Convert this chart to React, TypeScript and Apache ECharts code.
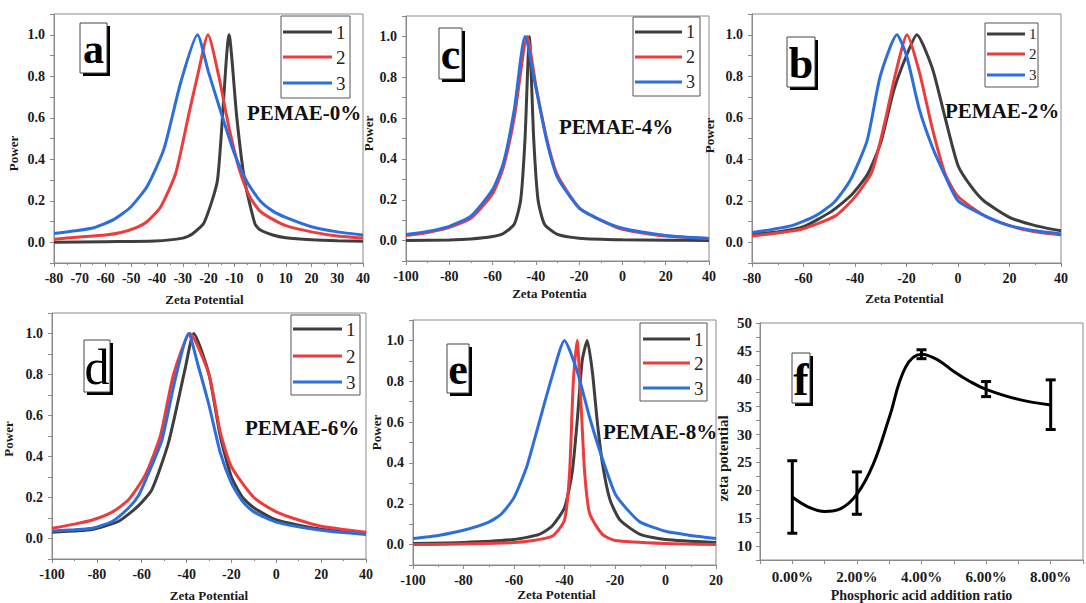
import React, { useEffect, useRef } from "react";
import * as echarts from "echarts";

const FONT = "Liberation Serif";
const C_BLACK = "#3e3e3e";
const C_RED = "#ee3b3b";
const C_BLUE = "#2c6fdc";

type P = [number, number][];

// Panel a: PEMAE-0%
const a1: P = [[-80,0.0],[-60,0.003],[-41,0.006],[-30,0.02],[-26.3,0.04],[-21.7,0.095],[-16.5,0.3],[-12,1.0],[-9,0.6],[-6,0.3],[-2,0.09],[0,0.06],[5,0.035],[10,0.022],[20,0.012],[30,0.007],[40,0.005]];
const a2: P = [[-80,0.015],[-70,0.025],[-60,0.035],[-54,0.047],[-48,0.07],[-43.8,0.1],[-38.6,0.17],[-32.8,0.33],[-27.6,0.62],[-24.3,0.8],[-20.2,1.0],[-16,0.8],[-12,0.55],[-8,0.35],[-4,0.22],[0,0.15],[5,0.11],[10,0.08],[20,0.05],[30,0.03],[40,0.02]];
const a3: P = [[-80,0.042],[-72,0.055],[-64.5,0.07],[-56.7,0.11],[-50.2,0.17],[-43.8,0.27],[-37.3,0.45],[-30.8,0.77],[-24.3,1.0],[-20,0.82],[-15,0.62],[-10,0.43],[-5,0.29],[0,0.2],[5,0.15],[10,0.12],[20,0.075],[30,0.05],[40,0.035]];

// Panel c: PEMAE-4%
const c1: P = [[-100,0.0],[-80,0.003],[-70,0.008],[-60,0.02],[-55,0.035],[-50,0.08],[-47,0.2],[-45,0.5],[-43,1.0],[-41,0.5],[-39,0.2],[-36,0.08],[-30,0.03],[-20,0.012],[0,0.004],[20,0.002],[40,0.0]];
const c2: P = [[-100,0.025],[-90,0.04],[-80,0.065],[-70,0.11],[-60,0.23],[-55,0.36],[-50,0.6],[-44,1.0],[-40,0.76],[-35,0.5],[-30,0.32],[-20,0.16],[-10,0.1],[0,0.055],[20,0.022],[40,0.01]];
const c3: P = [[-100,0.03],[-90,0.045],[-80,0.07],[-70,0.12],[-60,0.25],[-55,0.38],[-50,0.64],[-45,1.0],[-40,0.75],[-35,0.49],[-30,0.31],[-20,0.16],[-10,0.1],[0,0.06],[20,0.025],[40,0.01]];

// Panel b: PEMAE-2%
const b1: P = [[-80,0.04],[-70,0.05],[-60,0.075],[-49,0.15],[-41.2,0.23],[-35,0.33],[-30,0.48],[-25,0.73],[-20,0.9],[-16,1.0],[-10,0.84],[-5,0.6],[0,0.37],[5,0.27],[10,0.2],[20,0.12],[30,0.08],[40,0.055]];
const b2: P = [[-80,0.03],[-70,0.045],[-60.6,0.063],[-47.6,0.127],[-39.9,0.22],[-33.4,0.34],[-28.2,0.59],[-24.3,0.81],[-19.8,1.0],[-15,0.82],[-10,0.55],[-5,0.33],[0,0.22],[10,0.13],[20,0.08],[30,0.05],[40,0.035]];
const b3: P = [[-80,0.047],[-72,0.062],[-64.5,0.08],[-55.4,0.127],[-48.3,0.19],[-41.8,0.3],[-35.3,0.49],[-30.2,0.8],[-23.7,1.0],[-20,0.9],[-15,0.64],[-10,0.46],[-5,0.32],[0,0.2],[10,0.13],[20,0.08],[30,0.055],[40,0.04]];

// Panel d: PEMAE-6%
const d1: P = [[-100,0.03],[-90,0.037],[-82,0.044],[-70.3,0.084],[-61.4,0.16],[-55.4,0.24],[-48,0.47],[-40.6,0.83],[-36.8,1.0],[-30,0.8],[-25,0.5],[-20,0.3],[-15,0.2],[-10,0.15],[0,0.09],[20,0.045],[40,0.025]];
const d2: P = [[-100,0.05],[-90,0.07],[-82,0.09],[-73,0.13],[-65.8,0.19],[-58.4,0.31],[-51.7,0.5],[-45.8,0.8],[-38.5,1.0],[-30,0.8],[-25,0.52],[-20,0.35],[-10,0.2],[0,0.13],[10,0.09],[20,0.06],[40,0.03]];
const d3: P = [[-100,0.037],[-90,0.043],[-82,0.05],[-73,0.084],[-65.8,0.15],[-61.4,0.21],[-56.9,0.32],[-51,0.48],[-45,0.78],[-39.1,1.0],[-35,0.85],[-30,0.65],[-25,0.42],[-20,0.27],[-15,0.18],[-10,0.13],[0,0.08],[20,0.04],[40,0.02]];

// Panel e: PEMAE-8%
const e1: P = [[-100,0.005],[-80,0.01],[-60,0.025],[-50,0.05],[-45,0.09],[-40,0.18],[-37,0.35],[-35,0.6],[-33,0.9],[-31,1.0],[-29,0.85],[-27,0.6],[-25,0.4],[-22,0.22],[-18,0.12],[-10,0.05],[0,0.025],[20,0.01]];
const e2: P = [[-100,0.0],[-60,0.01],[-45,0.04],[-40,0.12],[-38,0.35],[-36.5,0.8],[-35,1.0],[-33.5,0.7],[-32,0.35],[-30,0.15],[-25,0.05],[-20,0.02],[0,0.005],[20,0.0]];
const e3: P = [[-100,0.03],[-90,0.045],[-80,0.07],[-70,0.11],[-65,0.15],[-60,0.23],[-55,0.38],[-50,0.6],[-45,0.82],[-40,1.0],[-35,0.85],[-30,0.62],[-25,0.42],[-20,0.25],[-15,0.17],[-10,0.11],[0,0.065],[10,0.045],[20,0.03]];

// Panel f
const ratioX = [0, 2, 4, 6, 8];
const zetaMean = [18.8, 19.3, 44.4, 38.1, 35.3];
const zetaLow = [12.3, 15.7, 43.6, 36.8, 30.9];
const zetaHigh = [25.3, 23.3, 45.2, 39.5, 39.8];
const fitCurve: P = [[0,18.8],[0.5,17.0],[1,16.2],[1.5,16.7],[2,19.3],[2.5,24.6],[3,33],[3.5,42],[4,44.4],[4.5,43.4],[5,41.3],[5.5,39.5],[6,38.1],[7,36.3],[8,35.3]];

const legendNames = ["1", "2", "3"];
const panelTitles = ["PEMAE-0%", "PEMAE-4%", "PEMAE-2%", "PEMAE-6%", "PEMAE-8%"];
const panelLetters = ["a", "c", "b", "d", "e", "f"];

export default function App() {
  const ref = useRef<HTMLDivElement>(null);
  useEffect(() => {
    if (!ref.current) return;
    const chart = echarts.init(ref.current, null, { renderer: "svg" });

    const grids = [
      { left: 54, top: 14, width: 309, height: 249 },
      { left: 406, top: 16, width: 303, height: 245 },
      { left: 752, top: 14, width: 309, height: 249 },
      { left: 52, top: 313, width: 314, height: 252 },
      { left: 413, top: 320, width: 303, height: 245 },
      { left: 760, top: 323, width: 325, height: 241 },
    ];
    const xRanges = [
      { min: -80, max: 40, interval: 10, gap: 30, name: "Zeta Potential", pad: [0, 8, 0, 0] },
      { min: -100, max: 40, interval: 20, gap: 26, name: "Zeta Potentia", pad: [0, 16, 0, 0] },
      { min: -80, max: 40, interval: 20, gap: 29, name: "Zeta Potential", pad: [0, 4, 0, 0] },
      { min: -100, max: 40, interval: 20, gap: 30, name: "Zeta Potential", pad: [0, 0, 0, 0] },
      { min: -100, max: 20, interval: 20, gap: 22, name: "Zeta Potential", pad: [0, 16, 0, 0] },
    ];
    const yGaps = [34, 31, 36, 37, 30];
    const yPads = [[0, 30, 0, 0], [0, 0, 0, 10], [0, 0, 0, 6], [0, 6, 0, 0], [0, 0, 0, 20]];
    const axisColor = "#8a8a8a";
    const labelStyle = { fontFamily: FONT, fontWeight: "bold", fontSize: 14, color: "#1a1a1a" };
    const nameStyle = { fontFamily: FONT, fontWeight: "bold", fontSize: 13, color: "#1a1a1a" };

    const xAxis: any[] = xRanges.map((r, i) => ({
      gridIndex: i, type: "value", min: r.min, max: r.max, interval: r.interval,
      name: r.name, nameLocation: "middle", nameGap: r.gap, nameTextStyle: { ...nameStyle, padding: r.pad },
      axisLine: { show: true, onZero: false, lineStyle: { color: axisColor } },
      axisTick: { show: true, length: 4, lineStyle: { color: axisColor } },
      minorTick: { show: true, splitNumber: 2, length: 2, lineStyle: { color: axisColor } },
      splitLine: { show: false },
      axisLabel: { ...labelStyle, margin: 8 },
    }));
    xAxis.push({
      gridIndex: 5, type: "value", min: -1, max: 9, interval: 1,
      name: "Phosphoric acid addition ratio", nameLocation: "middle", nameGap: 28,
      nameTextStyle: { ...nameStyle, fontSize: 14 },
      axisLine: { show: true, onZero: false, lineStyle: { color: axisColor } },
      axisTick: { show: true, length: 4, lineStyle: { color: axisColor } },
      splitLine: { show: false },
      axisLabel: {
        ...labelStyle, fontSize: 15, margin: 9,
        formatter: (v: number) => (v >= 0 && v <= 8 && Math.round(v) % 2 === 0 ? v.toFixed(2) + "%" : ""),
      },
    });

    const yAxis: any[] = yGaps.map((g, i) => ({
      gridIndex: i, type: "value", min: -0.1, max: 1.1, interval: 0.1,
      name: "Power", nameLocation: "middle", nameGap: g, nameTextStyle: { ...nameStyle, padding: yPads[i] },
      axisLine: { show: true, onZero: false, lineStyle: { color: axisColor } },
      axisTick: { show: true, length: 4, lineStyle: { color: axisColor } },
      splitLine: { show: false },
      axisLabel: {
        ...labelStyle, margin: 9,
        formatter: (v: number) => {
          const r = Math.round(v * 10);
          return r >= 0 && r <= 10 && r % 2 === 0 ? (r / 10).toFixed(1) : "";
        },
      },
    }));
    yAxis.push({
      gridIndex: 5, type: "value", min: 7.5, max: 50, interval: 2.5,
      name: "zeta potential", nameLocation: "middle", nameGap: 30,
      nameTextStyle: { ...nameStyle, fontSize: 15, padding: [0, 34, 0, 0] },
      axisLine: { show: true, onZero: false, lineStyle: { color: axisColor } },
      axisTick: { show: true, length: 4, lineStyle: { color: axisColor } },
      splitLine: { show: false },
      axisLabel: {
        ...labelStyle, fontSize: 15, margin: 8,
        formatter: (v: number) => {
          const r = Math.round(v * 10);
          return r % 50 === 0 ? String(r / 10) : "";
        },
      },
    });

    const spectra: P[][] = [[a1, a2, a3], [c1, c2, c3], [b1, b2, b3], [d1, d2, d3], [e1, e2, e3]];
    const colors = [C_BLACK, C_RED, C_BLUE];
    const series: any[] = [];
    spectra.forEach((set, pi) => {
      set.forEach((data, si) => {
        series.push({
          type: "line", name: legendNames[si], xAxisIndex: pi, yAxisIndex: pi,
          data, showSymbol: false, smooth: 0.2,
          lineStyle: { color: colors[si], width: 3 }, itemStyle: { color: colors[si] },
        });
      });
    });
    series.push({
      type: "line", xAxisIndex: 5, yAxisIndex: 5, data: fitCurve, showSymbol: false,
      smooth: 0.4, lineStyle: { color: "#000", width: 3 },
    });
    series.push({
      type: "custom", xAxisIndex: 5, yAxisIndex: 5,
      data: ratioX.map((x, i) => [x, zetaLow[i], zetaHigh[i], zetaMean[i]]),
      encode: { x: 0, y: [1, 2] },
      renderItem: (params: any, api: any) => {
        const x = api.value(0);
        const top = api.coord([x, api.value(2)]);
        const bot = api.coord([x, api.value(1)]);
        const hw = 5;
        const st = { stroke: "#000", lineWidth: 3 };
        return {
          type: "group",
          children: [
            { type: "line", shape: { x1: top[0], y1: top[1], x2: bot[0], y2: bot[1] }, style: st },
            { type: "line", shape: { x1: top[0] - hw, y1: top[1], x2: top[0] + hw, y2: top[1] }, style: st },
            { type: "line", shape: { x1: bot[0] - hw, y1: bot[1], x2: bot[0] + hw, y2: bot[1] }, style: st },
          ],
        };
      },
    });

    const graphic: any[] = [];
    const legends = [
      { box: [281, 16, 69, 82], rows: [32, 57, 83], lx: [283, 332], tx: 336, fs: 19 },
      { box: [633, 17, 67, 79], rows: [32, 57, 82], lx: [635, 682], tx: 686, fs: 18 },
      { box: [985, 23, 53, 64], rows: [34, 54, 75], lx: [987, 1025], tx: 1029, fs: 15 },
      { box: [291, 315, 69, 80], rows: [329, 356, 382], lx: [293, 342], tx: 346, fs: 19 },
      { box: [640, 323, 67, 78], rows: [339, 363, 388], lx: [643, 690], tx: 694, fs: 19 },
    ];
    legends.forEach((lg) => {
      graphic.push({
        type: "rect", shape: { x: lg.box[0], y: lg.box[1], width: lg.box[2], height: lg.box[3] },
        style: { fill: "#fff", stroke: "#555", lineWidth: 1 }, z: 10,
      });
      lg.rows.forEach((ry, k) => {
        graphic.push({
          type: "line", shape: { x1: lg.lx[0], y1: ry, x2: lg.lx[1], y2: ry },
          style: { stroke: colors[k], lineWidth: 3 }, z: 11,
        });
        graphic.push({
          type: "text", x: lg.tx, y: ry, z: 11,
          style: { text: legendNames[k], font: `${lg.fs}px ${FONT}`, fill: "#222", textAlign: "left", textVerticalAlign: "middle" },
        });
      });
    });

    const letterBoxes = [
      { r: [80, 23, 27, 50], fs: 42, w: "bold" },
      { r: [439, 28, 23, 51], fs: 44, w: "bold" },
      { r: [787, 37, 28, 50], fs: 44, w: "bold" },
      { r: [84, 340, 26, 52], fs: 50, w: "normal" },
      { r: [447, 344, 22, 49], fs: 44, w: "bold" },
      { r: [792, 353, 18, 50], fs: 46, w: "bold" },
    ];
    letterBoxes.forEach((lb, i) => {
      const [x, y, w, h] = lb.r;
      graphic.push({ type: "rect", shape: { x: x + 3, y: y + 3, width: w, height: h }, style: { fill: "#000" }, z: 10 });
      graphic.push({ type: "rect", shape: { x, y, width: w, height: h }, style: { fill: "#fff", stroke: "#444", lineWidth: 1 }, z: 11 });
      graphic.push({
        type: "text", x: x + w / 2, y: y + h / 2 + 1, z: 12,
        style: { text: panelLetters[i], font: `${lb.w} ${lb.fs}px ${FONT}`, fill: "#000", textAlign: "center", textVerticalAlign: "middle" },
      });
    });

    const titlePos = [[247, 113], [559, 127], [945, 111], [245, 428], [603, 432]];
    titlePos.forEach((p, i) => {
      graphic.push({
        type: "text", x: p[0], y: p[1], z: 12,
        style: { text: panelTitles[i], font: `bold 21px ${FONT}`, fill: "#111", textAlign: "left", textVerticalAlign: "middle" },
      });
    });

    chart.setOption({
      animation: false,
      backgroundColor: "#fff",
      textStyle: { fontFamily: FONT },
      grid: grids.map((g) => ({ ...g, show: true, borderColor: axisColor, borderWidth: 1, backgroundColor: "transparent", containLabel: false })),
      xAxis, yAxis, series, graphic,
    });
    return () => chart.dispose();
  }, []);
  return <div ref={ref} style={{ position: "fixed", left: 0, top: 0, width: 1086, height: 603, background: "#fff" }} />;
}
